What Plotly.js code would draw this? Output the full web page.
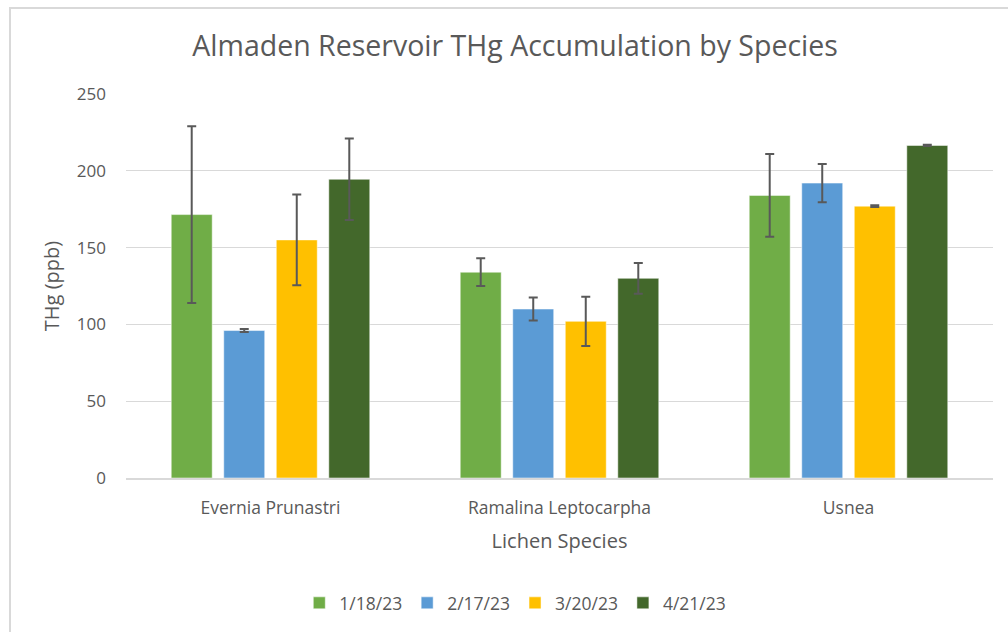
<!DOCTYPE html>
<html>
<head>
<meta charset="utf-8">
<script src="https://cdn.plot.ly/plotly-3.0.1.min.js"></script>
<style>
  html, body { margin: 0; padding: 0; background: #ffffff; }
  #wrap { position: relative; width: 1008px; height: 632px; overflow: hidden; }
  #chart { position: absolute; left: 0; top: 0; width: 1008px; height: 632px; }
  #frame { position: absolute; left: 9px; top: 7px; width: 1100px; height: 700px;
           border-left: 2px solid #d9d9d9; border-top: 2px solid #d9d9d9; pointer-events: none; }
</style>
</head>
<body>
<div id="wrap">
  <div id="chart"></div>
  <div id="frame"></div>
</div>
<script>
// ---- data ----
const species = ["Evernia Prunastri", "Ramalina Leptocarpha", "Usnea"];
const dates = ["1/18/23", "2/17/23", "3/20/23", "4/21/23"];

const thg_0118 = [171.5, 134, 184];
const thg_0217 = [96, 110, 192];
const thg_0320 = [155, 102, 177];
const thg_0421 = [194.5, 130, 216.5];

const err_0118 = [57.5, 9, 27];
const err_0217 = [1, 7.5, 12.5];
const err_0320 = [29.5, 16, 0.5];
const err_0421 = [26.5, 10, 0.4];

const colors = ["#70AD47", "#5B9BD5", "#FFC000", "#43682B"];

const values = [thg_0118, thg_0217, thg_0320, thg_0421];
const errors = [err_0118, err_0217, err_0320, err_0421];

const FONT = "Open Sans, Liberation Sans, sans-serif";
const GREY = "#595959";

const traces = dates.map((d, i) => ({
  type: "bar",
  name: d,
  x: species,
  y: values[i],
  marker: { color: colors[i], line: { color: "rgba(255,255,255,0.5)", width: 1 } },
  error_y: { type: "data", array: errors[i], visible: true, color: GREY, thickness: 2, width: 4.5 },
  hoverinfo: "x+y+name"
}));

const layout = {
  width: 1008,
  height: 632,
  paper_bgcolor: "#ffffff",
  plot_bgcolor: "#ffffff",
  margin: { l: 126, r: 15, t: 94, b: 153 },
  font: { family: FONT, color: GREY, size: 17 },
  title: {
    text: "Almaden Reservoir THg Accumulation by Species",
    font: { family: FONT, size: 28.5, color: GREY },
    xref: "container", yref: "container",
    x: 0.511, y: 0.927, xanchor: "center", yanchor: "middle"
  },
  barmode: "group",
  bargap: 0.273,
  bargroupgap: 0.22,
  xaxis: {
    type: "category",
    showline: true,
    linecolor: "#d9d9d9",
    linewidth: 1.5,
    ticks: "",
    ticklabelstandoff: 13,
    tickfont: { family: FONT, size: 17.5, color: GREY },
    title: { text: "Lichen Species", font: { family: FONT, size: 20, color: GREY }, standoff: 16 }
  },
  yaxis: {
    range: [0, 250],
    dtick: 50,
    tick0: 0,
    showgrid: true,
    gridcolor: "#d9d9d9",
    gridwidth: 1.3,
    zeroline: false,
    showline: false,
    ticks: "",
    ticklabelstandoff: 19,
    tickfont: { family: FONT, size: 17, color: GREY },
    title: { text: "THg (ppb)", font: { family: FONT, size: 20, color: GREY }, standoff: 11 }
  },
  showlegend: true,
  legend: {
    orientation: "h",
    x: 0.449, xanchor: "center",
    y: -0.322, yanchor: "middle",
    font: { family: FONT, size: 17.5, color: GREY },
    itemwidth: 30,
    traceorder: "normal"
  }
};

Plotly.newPlot("chart", traces, layout, { displayModeBar: false, staticPlot: false });
</script>
</body>
</html>
